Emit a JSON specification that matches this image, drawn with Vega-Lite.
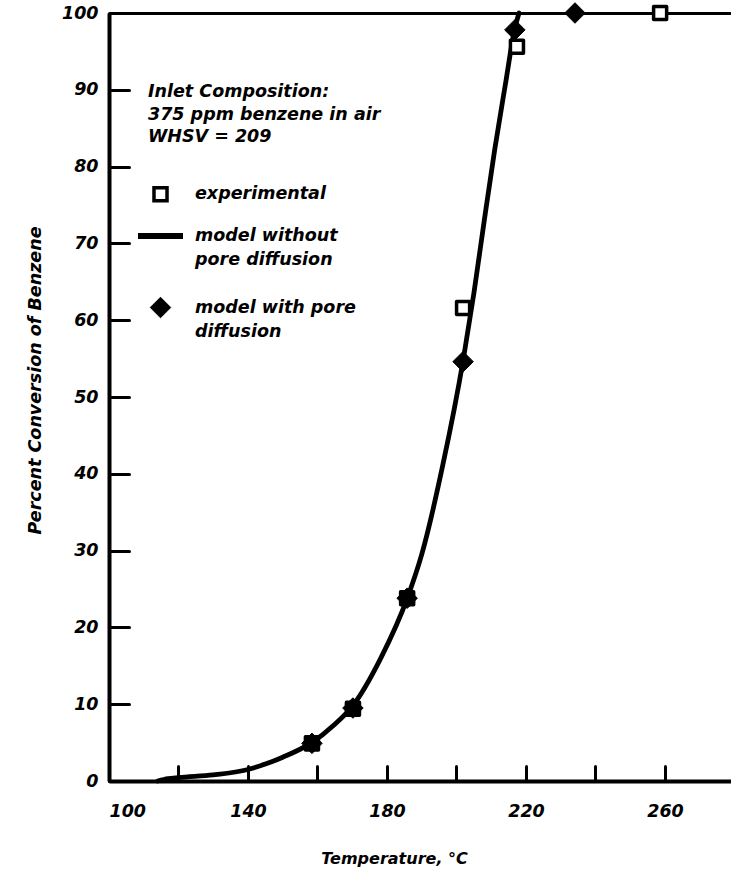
{
  "$schema": "https://vega.github.io/schema/vega-lite/v6.json",
  "width": 622,
  "height": 768,
  "autosize": {"type": "none"},
  "padding": {"left": 109, "top": 13, "right": 0, "bottom": 93},
  "background": "white",
  "config": {
    "view": {"stroke": null},
    "font": "DejaVu Sans",
    "style": {"guide-label": {"lineHeight": 24}},
    "axis": {
      "grid": false,
      "domainColor": "black",
      "tickColor": "black",
      "labelColor": "black",
      "titleColor": "black",
      "labelFont": "DejaVu Sans",
      "labelFontStyle": "italic",
      "labelFontWeight": "bold",
      "labelFontSize": 17.5,
      "titleFont": "DejaVu Sans",
      "titleFontStyle": "italic",
      "titleFontWeight": "bold",
      "titleFontSize": 16,
      "tickCap": "round"
    }
  },
  "datasets": {
    "model": [
      {"temperature": 114, "conversion": 0},
      {"temperature": 117, "conversion": 0.3},
      {"temperature": 120, "conversion": 0.45},
      {"temperature": 130, "conversion": 0.8},
      {"temperature": 140, "conversion": 1.5},
      {"temperature": 145, "conversion": 2.2},
      {"temperature": 150, "conversion": 3.1},
      {"temperature": 158, "conversion": 4.9},
      {"temperature": 165, "conversion": 7.4},
      {"temperature": 170, "conversion": 9.7},
      {"temperature": 178, "conversion": 15.8},
      {"temperature": 186, "conversion": 24},
      {"temperature": 190, "conversion": 29.5},
      {"temperature": 196, "conversion": 41},
      {"temperature": 202, "conversion": 55},
      {"temperature": 205, "conversion": 63.5},
      {"temperature": 208, "conversion": 73},
      {"temperature": 211, "conversion": 82.2},
      {"temperature": 214, "conversion": 90.5},
      {"temperature": 216.8, "conversion": 98},
      {"temperature": 218, "conversion": 100}
    ],
    "points": [
      {"series": "experimental", "temperature": 158.4, "conversion": 4.9},
      {"series": "experimental", "temperature": 170.2, "conversion": 9.4},
      {"series": "experimental", "temperature": 185.8, "conversion": 23.8},
      {"series": "experimental", "temperature": 201.9, "conversion": 61.6},
      {"series": "experimental", "temperature": 217.4, "conversion": 95.6},
      {"series": "experimental", "temperature": 258.6, "conversion": 100},
      {"series": "model with pore diffusion", "temperature": 158.4, "conversion": 4.9},
      {"series": "model with pore diffusion", "temperature": 170.2, "conversion": 9.5},
      {"series": "model with pore diffusion", "temperature": 185.8, "conversion": 23.8},
      {"series": "model with pore diffusion", "temperature": 201.9, "conversion": 54.6},
      {"series": "model with pore diffusion", "temperature": 216.8, "conversion": 97.8},
      {"series": "model with pore diffusion", "temperature": 234.1, "conversion": 100}
    ]
  },
  "encoding": {
    "y": {
      "field": "conversion",
      "type": "quantitative",
      "scale": {"domain": [0, 100], "nice": false, "zero": false},
      "axis": {
        "title": "Percent Conversion of Benzene",
        "values": [0, 10, 20, 30, 40, 50, 60, 70, 80, 90, 100],
        "tickSize": -20,
        "tickWidth": 3,
        "labelPadding": 31,
        "labelFlush": false,
        "domainWidth": 4,
        "titleFontSize": 17.5,
        "titleX": -74,
        "titleY": 367,
        "titleBaseline": "middle"
      }
    }
  },
  "layer": [
    {
      "data": {"name": "model"},
      "mark": {"type": "line", "color": "black", "strokeWidth": 4.8, "strokeCap": "round", "interpolate": "monotone"},
      "encoding": {
        "x": {
          "field": "temperature",
          "type": "quantitative",
          "scale": {"domain": [100, 279], "nice": false, "zero": false},
          "axis": {
            "title": "Temperature, °C",
            "values": [100, 120, 140, 160, 180, 200, 220, 240, 260],
            "labelExpr": "datum.value % 40 == 20 ? datum.label : ''",
            "tickSize": -15,
            "tickWidth": 3,
            "labelPadding": 36,
            "domainWidth": 4,
            "titleX": 285,
            "titleY": 77,
            "titleBaseline": "middle"
          }
        }
      }
    },
    {
      "data": {"name": "points"},
      "mark": {"type": "point", "stroke": "black", "opacity": 1, "strokeJoin": "round"},
      "encoding": {
        "x": {
          "field": "temperature",
          "type": "quantitative",
          "axis": {"orient": "top", "ticks": false, "labels": false, "domain": true, "domainWidth": 3, "title": null}
        },
        "shape": {
          "field": "series",
          "type": "nominal",
          "scale": {"domain": ["experimental", "model without pore diffusion", "model with pore diffusion"], "range": ["square", "stroke", "diamond"]},
          "legend": {
            "title": ["Inlet Composition:", "375 ppm benzene in air", "WHSV = 209"],
            "orient": "none", "legendX": 39, "legendY": 70,
            "gridAlign": "none",
            "titleFont": "DejaVu Sans", "titleFontSize": 17.5, "titleFontStyle": "italic", "titleFontWeight": "bold", "titleColor": "black", "titleLineHeight": 22.5, "titlePadding": 40, "titleLimit": 600,
            "labelFont": "DejaVu Sans", "labelFontSize": 17.5, "labelFontStyle": "italic", "labelFontWeight": "bold", "labelColor": "black", "labelLimit": 600, "labelOffset": 9,
            "symbolOffset": -13, "rowPadding": 2, "symbolStrokeColor": "black",
            "labelExpr": "datum.label == 'model without pore diffusion' ? ['model without', 'pore diffusion', ''] : datum.label == 'model with pore diffusion' ? ['model with pore', 'diffusion'] : datum.label"
          }
        },
        "fill": {
          "field": "series",
          "type": "nominal",
          "scale": {"domain": ["experimental", "model without pore diffusion", "model with pore diffusion"], "range": ["white", "black", "black"]},
          "legend": {
            "title": ["Inlet Composition:", "375 ppm benzene in air", "WHSV = 209"],
            "orient": "none", "legendX": 39, "legendY": 70
          }
        },
        "size": {
          "field": "series",
          "type": "nominal",
          "scale": {"type": "ordinal", "domain": ["experimental", "model without pore diffusion", "model with pore diffusion"], "range": [170, 2025, 420]},
          "legend": {
            "title": ["Inlet Composition:", "375 ppm benzene in air", "WHSV = 209"],
            "orient": "none", "legendX": 39, "legendY": 70
          }
        },
        "strokeWidth": {
          "field": "series",
          "type": "nominal",
          "scale": {"type": "ordinal", "domain": ["experimental", "model without pore diffusion", "model with pore diffusion"], "range": [3.5, 6, 1]},
          "legend": {
            "title": ["Inlet Composition:", "375 ppm benzene in air", "WHSV = 209"],
            "orient": "none", "legendX": 39, "legendY": 70
          }
        }
      }
    }
  ],
  "resolve": {"axis": {"x": "independent"}}
}
